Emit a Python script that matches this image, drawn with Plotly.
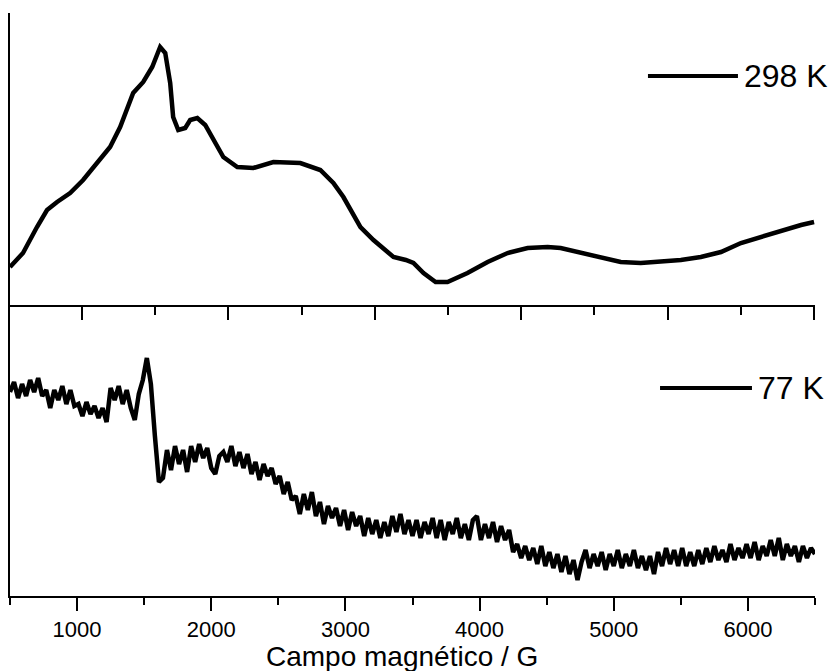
import plotly.graph_objects as go

# EPR spectra, arbitrary intensity units
field_298 = [500, 597, 701, 776, 851, 948, 1045, 1149, 1246, 1321, 1418, 1493,
             1560, 1619, 1657, 1694, 1716, 1754, 1806, 1843, 1896, 1955, 2015,
             2090, 2194, 2313, 2463, 2612, 2664, 2813, 2910, 2985, 3037, 3112,
             3209, 3358, 3450, 3507, 3582, 3672, 3761, 3910, 4060, 4209, 4358,
             4507, 4604, 4754, 4903, 5052, 5201, 5351, 5500, 5649, 5799, 5948,
             6097, 6246, 6396, 6493]
signal_298 = [38, 52, 78, 95, 103, 112, 125, 142, 158, 178, 212, 223,
              238, 258, 252, 222, 188, 175, 177, 185, 187, 180, 165,
              148, 138, 137, 143, 143, 142, 135, 122, 108, 95, 78,
              65, 48, 45, 42, 32, 23, 23, 32, 43, 52, 57,
              58, 57, 52, 47, 43, 42, 43, 45, 48, 53, 62,
              68, 75, 80, 83]

field_77 = list(range(500, 6501, 30))
signal_77 = [204, 214, 198, 212, 200, 216, 204, 218, 200, 206, 188, 206, 196, 210, 192, 206, 190,
             192, 180, 194, 182, 190, 178, 188, 174,
             208, 196, 210, 192, 206, 188, 176, 202, 216,
             238, 212, 160, 114, 118,
             146, 126, 150, 132, 146, 124, 150, 134, 152, 138, 148, 128, 122, 140,
             144, 134, 150, 130, 144, 128, 142, 122, 134, 116, 132, 120, 128, 112,
             120, 102, 114, 96, 100, 82, 102, 86, 104, 80, 94, 72, 90, 78,
             88, 70, 86, 66, 84, 70, 80, 60, 78, 62, 76, 58, 74, 60, 80, 64, 82, 62, 76, 60,
             76, 58, 74, 62, 78, 58, 76, 56, 74, 62, 78, 58, 72, 56, 76, 80, 56, 72, 58, 74, 54, 70, 56, 66,
             44, 52, 38, 50, 36, 48, 32, 50, 30, 44, 28, 42, 24, 40, 22, 36, 16, 34, 46, 28, 42,
             30, 44, 26, 42, 30, 46, 28, 42, 30, 46, 28, 40, 26, 40, 22, 44, 30, 48, 32, 46, 30, 48, 30, 44, 30,
             46, 32, 48, 34, 50, 36, 46, 34, 52, 36, 48, 38, 52, 38, 54, 36, 50, 40, 56, 40, 58, 36, 52, 40, 50,
             34, 50, 38, 48, 42]

labels = ["298 K", "77 K"]
x_title = "Campo magnético / G"
font = "Arial, Liberation Sans, sans-serif"

fig = go.Figure()
fig.add_trace(go.Scatter(x=field_298, y=signal_298, mode="lines", name=labels[0],
                         line=dict(color="black", width=4.5), xaxis="x2", yaxis="y2"))
fig.add_trace(go.Scatter(x=field_77, y=signal_77, mode="lines", name=labels[1],
                         line=dict(color="black", width=4.5), xaxis="x", yaxis="y"))

axis_common = dict(showline=True, linecolor="black", linewidth=2, showgrid=False,
                   zeroline=False, mirror=False)

# page body has an 8px margin, so the figure is a bit smaller than the window
fig.update_layout(
    width=828, height=663,
    margin=dict(l=2, t=5, r=21, b=75),
    paper_bgcolor="white", plot_bgcolor="white",
    showlegend=False,
    font=dict(family=font, color="black", size=22),
    xaxis=dict(**axis_common, range=[500, 6500], anchor="y",
               tickmode="linear", tick0=1000, dtick=1000,
               ticks="outside", ticklen=13, tickwidth=2, tickcolor="black",
               minor=dict(dtick=500, tick0=500, ticks="outside", ticklen=7,
                          tickwidth=2, tickcolor="black"),
               tickfont=dict(size=22)),
    yaxis=dict(**axis_common, domain=[0, 0.4991], range=[0, 291],
               showticklabels=False, ticks=""),
    xaxis2=dict(**axis_common, range=[500, 6500], anchor="y2",
                tickmode="linear", tick0=1037, dtick=1091,
                ticks="outside", ticklen=13, tickwidth=2, tickcolor="black",
                minor=dict(dtick=545.5, tick0=1037, ticks="outside", ticklen=8,
                           tickwidth=2, tickcolor="black"),
                showticklabels=False),
    yaxis2=dict(**axis_common, domain=[0.4991, 1], range=[0, 292],
                showticklabels=False, ticks=""),
)

# axis title, a little left of centre as in the original
fig.add_annotation(xref="paper", yref="paper", x=0.487, y=-0.104, text=x_title,
                   showarrow=False, xanchor="center", yanchor="middle", borderpad=0,
                   font=dict(size=28, family=font, color="black"))

# legend samples drawn next to each panel
legend_pos = [(0.7925, 0.9043, 0.8919), (0.8075, 0.9217, 0.3568)]
for (x0, x1, y), text in zip(legend_pos, labels):
    fig.add_shape(type="line", xref="paper", yref="paper", x0=x0, x1=x1, y0=y, y1=y,
                  line=dict(color="black", width=4))
    fig.add_annotation(xref="paper", yref="paper", x=x1 + 0.006, y=y, text=text,
                       showarrow=False, xanchor="left", yanchor="middle",
                       borderpad=0, font=dict(size=32, family=font, color="black"))

fig.write_html("out.html")
